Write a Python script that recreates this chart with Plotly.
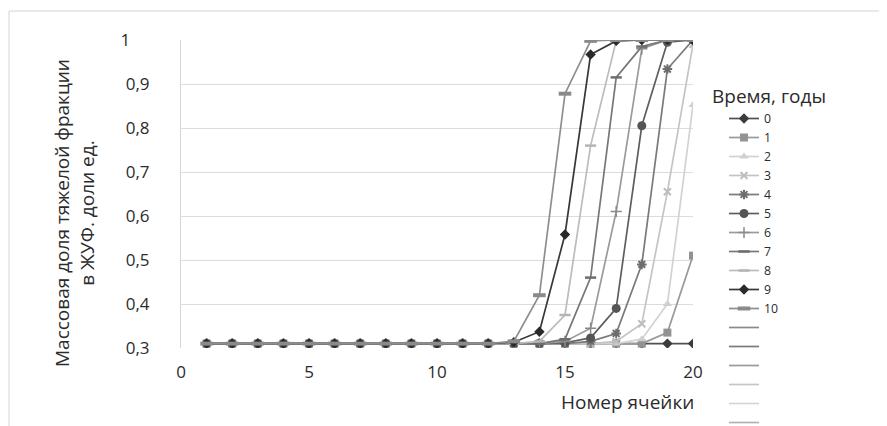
import plotly.graph_objects as go

# ---- data ----
cells = list(range(1, 21))
years = ["0", "1", "2", "3", "4", "5", "6", "7", "8", "9", "10"]

base = 0.31
s0 = [base] * 20
s1 = [base] * 18 + [0.335, 0.51]
s2 = [base] * 17 + [0.32, 0.40, 0.852]
s3 = [base] * 16 + [0.315, 0.355, 0.655, 0.99]
s4 = [base] * 15 + [0.315, 0.333, 0.49, 0.934, 1.0]
s5 = [base] * 14 + [0.312, 0.323, 0.39, 0.805, 0.995, 1.0]
s6 = [base] * 14 + [0.315, 0.345, 0.61, 0.98, 1.0, 1.0]
s7 = [base] * 14 + [0.32, 0.46, 0.915, 0.985, 1.0, 1.0]
s8 = [base] * 13 + [0.315, 0.375, 0.76, 0.998, 1.0, 1.0, 1.0]
s9 = [base] * 12 + [0.313, 0.337, 0.558, 0.967, 0.998, 1.0, 1.0, 1.0]
s10 = [base] * 12 + [0.315, 0.42, 0.878, 0.998, 1.0, 1.0, 1.0, 1.0]
series = [s0, s1, s2, s3, s4, s5, s6, s7, s8, s9, s10]

y_tickvals = [0.3, 0.4, 0.5, 0.6, 0.7, 0.8, 0.9, 1.0]
y_ticktext = ["0,3", "0,4", "0,5", "0,6", "0,7", "0,8", "0,9", "1\u2007\u2007"]
x_tickvals = [0, 5, 10, 15, 20]
x_ticktext = ["0", "5", "10", "15", "20"]

# ---- styles ----
line_colors = ["#505050", "#9a9a9a", "#d2d2d2", "#c4c4c4", "#7a7a7a", "#5e5e5e",
               "#9a9a9a", "#777777", "#bcbcbc", "#383838", "#8e8e8e"]
marker_styles = [
    dict(symbol="diamond", size=8, color="#3c3c3c"),
    dict(symbol="square", size=8, color="#939393"),
    dict(symbol="triangle-up", size=8, color="#d0d0d0"),
    dict(symbol="x-thin", size=7, color="#bdbdbd", line=dict(width=2, color="#bdbdbd")),
    dict(symbol="asterisk", size=8, color="#6e6e6e", line=dict(width=2, color="#6e6e6e")),
    dict(symbol="circle", size=9, color="#555555"),
    dict(symbol="cross-thin", size=8, color="#8a8a8a", line=dict(width=1.5, color="#8a8a8a")),
    dict(symbol="line-ew", size=8, color="#6e6e6e", line=dict(width=2.5, color="#6e6e6e")),
    dict(symbol="line-ew", size=8, color="#b5b5b5", line=dict(width=2.5, color="#b5b5b5")),
    dict(symbol="diamond", size=8, color="#2a2a2a"),
    dict(symbol="line-ew", size=9, color="#8a8a8a", line=dict(width=4, color="#8a8a8a")),
]
blank_colors = ["#8a8a8a", "#7a7a7a", "#9a9a9a", "#c6c6c6", "#d6d6d6", "#b2b2b2", "#8c8c8c"]

FONT = "Open Sans"
W, H = 879, 418          # page body has an 8px margin
L, T = 173, 32           # plot area: x 173..685, y 32..340 (figure coords)
PW, PH = 512, 308


def px(xp):   # page x -> paper fraction
    return (xp - 8 - L) / PW


def py(yp):   # page y -> paper fraction
    return (T + PH - (yp - 8)) / PH


fig = go.Figure()
for name, vals, lc, ms in zip(years, series, line_colors, marker_styles):
    fig.add_trace(go.Scatter(
        x=cells, y=vals, name=name, mode="lines+markers",
        line=dict(color=lc, width=1.7), marker=ms,
    ))
for bc in blank_colors:
    fig.add_trace(go.Scatter(
        x=[None], y=[None], name=" ", mode="lines",
        line=dict(color=bc, width=1.7),
    ))

fig.update_layout(
    width=W, height=H, autosize=False,
    margin=dict(l=L, r=W - L - PW, t=T, b=H - T - PH),
    paper_bgcolor="white", plot_bgcolor="white",
    font=dict(family=FONT, color="#2b2b2b", size=16),
    separators=", ",
    showlegend=True,
    legend=dict(
        xref="container", yref="container",
        x=716 / W, xanchor="left",
        y=1 - 96 / H, yanchor="top",
        maxheight=H,
        font=dict(family=FONT, size=12.3, color="#2b2b2b"),
        bgcolor="rgba(0,0,0,0)", borderwidth=0,
        itemwidth=30, tracegroupgap=0,
    ),
    xaxis=dict(
        range=[0, 20], tickvals=x_tickvals, ticktext=x_ticktext,
        showgrid=False, zeroline=False, showline=False,
        ticks="", ticklabelstandoff=12,
        tickfont=dict(family=FONT, size=17, color="#2b2b2b"),
    ),
    yaxis=dict(
        range=[0.3, 1.0], tickvals=y_tickvals, ticktext=y_ticktext,
        showgrid=True, gridcolor="#dcdcdc", gridwidth=1,
        zeroline=False, showline=True, linecolor="#d6d6d6", linewidth=1,
        ticks="", ticklabelstandoff=27,
        tickfont=dict(family=FONT, size=17, color="#2b2b2b"),
    ),
    shapes=[dict(
        type="rect", xref="paper", yref="paper",
        x0=px(9), x1=px(900), y0=py(450), y1=py(11),
        line=dict(color="#d4d4d4", width=1), fillcolor="rgba(0,0,0,0)",
        layer="below",
    )],
    annotations=[
        dict(text="Массовая доля тяжелой фракции<br>в ЖУФ. доли ед.",
             xref="paper", yref="paper", x=px(74), y=py(213),
             xanchor="center", yanchor="middle", textangle=-90,
             showarrow=False, font=dict(family=FONT, size=19, color="#2b2b2b")),
        dict(text="Номер ячейки", xref="paper", yref="paper",
             x=px(627), y=py(402), xanchor="center", yanchor="middle",
             showarrow=False, font=dict(family=FONT, size=19, color="#2b2b2b")),
        dict(text="Время, годы", xref="paper", yref="paper",
             x=px(710), y=py(96), xanchor="left", yanchor="middle",
             showarrow=False, font=dict(family=FONT, size=19, color="#2b2b2b")),
    ],
)

fig.write_html("out.html")
